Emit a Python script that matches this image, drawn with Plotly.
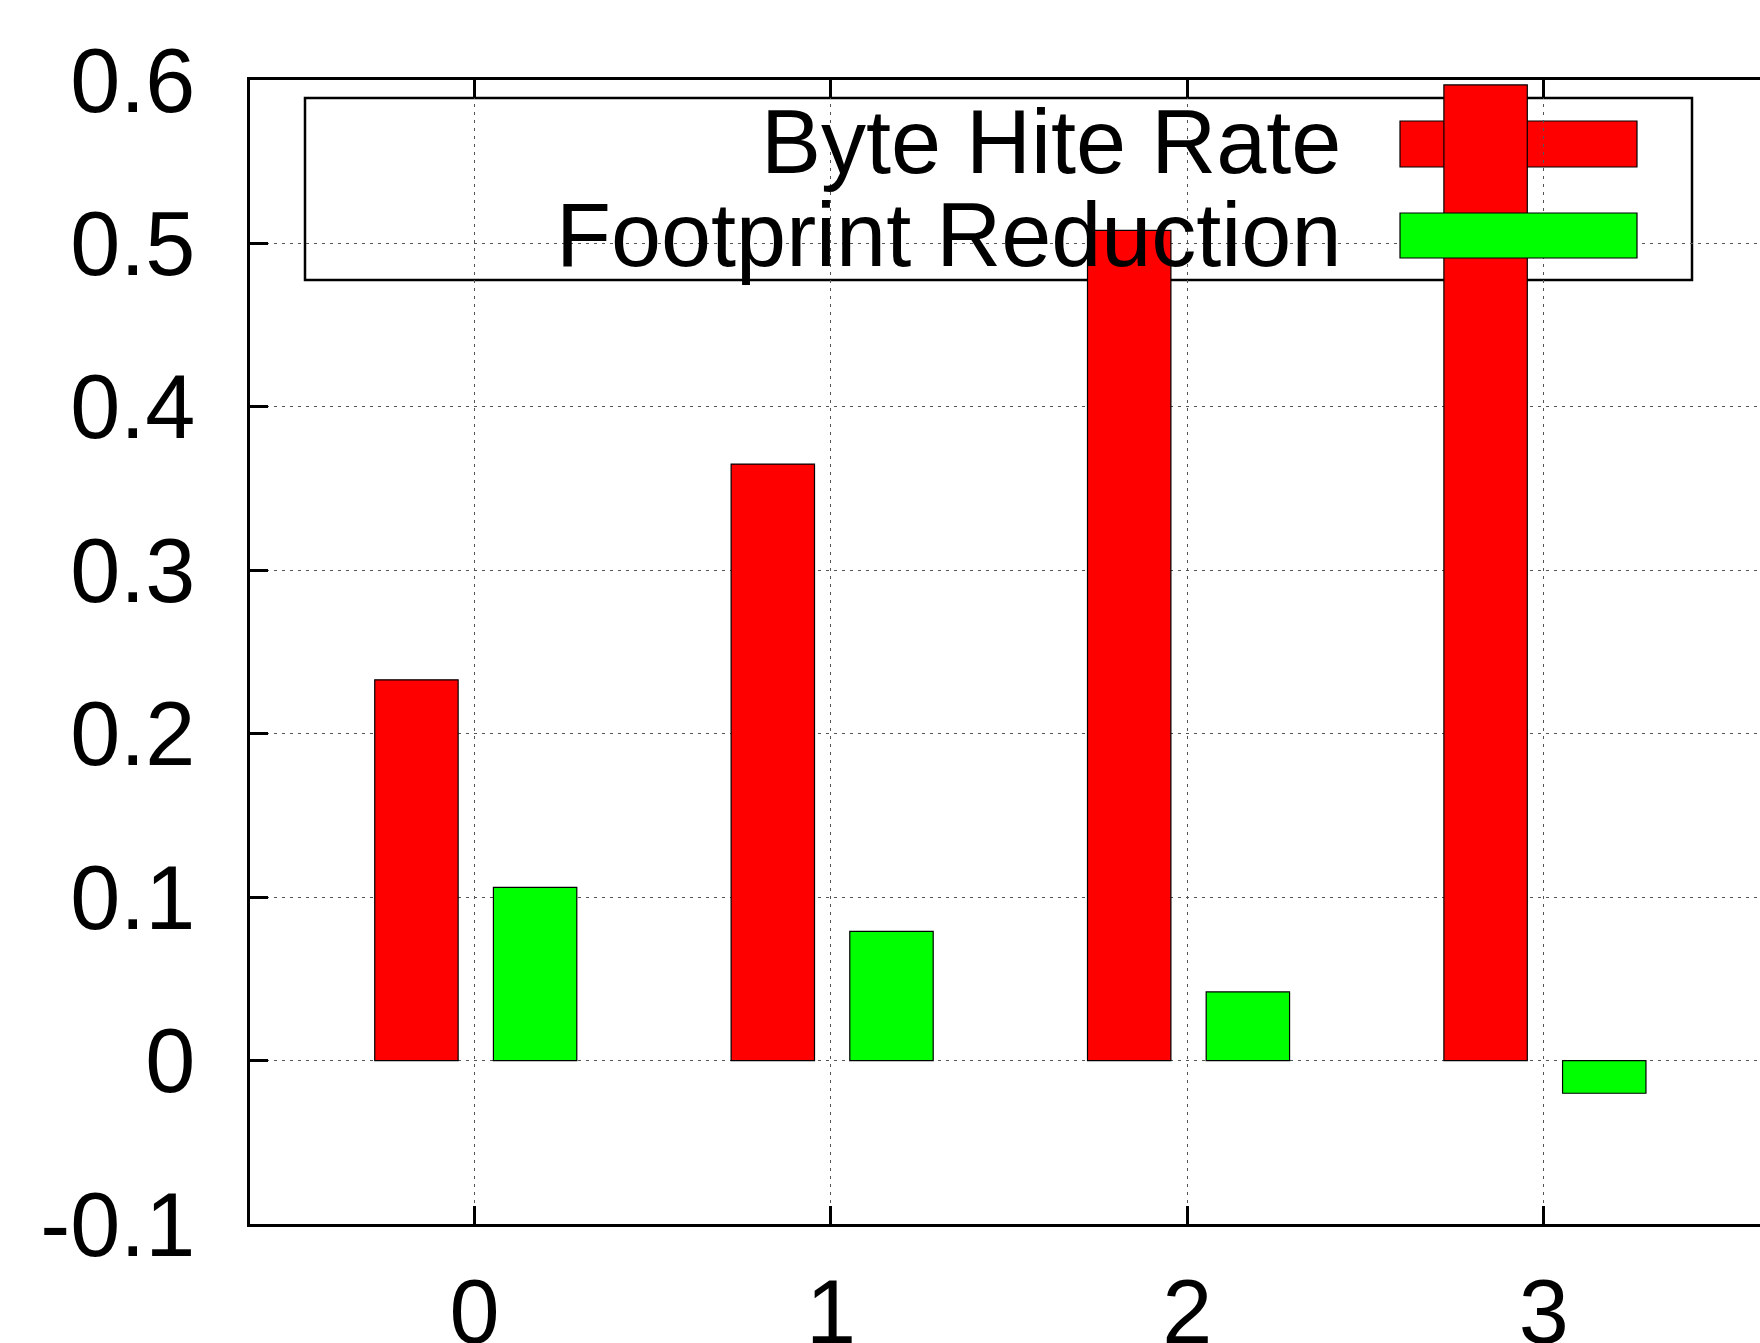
import plotly.graph_objects as go

# Data
categories = [0, 1, 2, 3]
tick_labels_x = ["0", "1", "2", "3"]
byte_hit_rate = [0.233, 0.365, 0.508, 0.597]
footprint_reduction = [0.106, 0.079, 0.042, -0.020]
y_tick_values = [-0.1, 0, 0.1, 0.2, 0.3, 0.4, 0.5, 0.6]
y_tick_labels = ["-0.1", "0", "0.1", "0.2", "0.3", "0.4", "0.5", "0.6"]
series_names = ["Byte Hite Rate", "Footprint Reduction"]

W, H = 1760, 1343
PLOT_L, PLOT_R, PLOT_T, PLOT_B = 250, 1760, 80, 1224
FONT = "Liberation Sans, Arial, Helvetica, sans-serif"
RED = "#ff0000"
GREEN = "#00ff00"


def px(x):
    return (x - PLOT_L) / (PLOT_R - PLOT_L)


def py(y):
    return (PLOT_B - y) / (PLOT_B - PLOT_T)


fig = go.Figure()
fig.add_trace(go.Bar(
    x=categories, y=byte_hit_rate, name=series_names[0],
    width=0.234, offset=-0.280,
    marker=dict(color=RED, line=dict(color="black", width=1.2)),
    showlegend=False,
))
fig.add_trace(go.Bar(
    x=categories, y=footprint_reduction, name=series_names[1],
    width=0.234, offset=0.053,
    marker=dict(color=GREEN, line=dict(color="black", width=1.2)),
    showlegend=False,
))

# Key: framed box with samples on the right, labels right-aligned
shapes = [
    dict(type="rect", xref="paper", yref="paper",
         x0=px(305), x1=px(1692), y0=py(280), y1=py(98),
         fillcolor="white", line=dict(color="black", width=2.5), layer="between"),
    dict(type="rect", xref="paper", yref="paper",
         x0=px(1400), x1=px(1637), y0=py(167), y1=py(121),
         fillcolor=RED, line=dict(color="black", width=1.2), layer="between"),
    dict(type="rect", xref="paper", yref="paper",
         x0=px(1400), x1=px(1637), y0=py(258), y1=py(213),
         fillcolor=GREEN, line=dict(color="black", width=1.2), layer="above"),
]
annotations = [
    dict(text=series_names[0], xref="paper", yref="paper",
         x=px(1343), y=py(142), xanchor="right", yanchor="middle",
         showarrow=False, font=dict(family=FONT, size=90, color="black")),
    dict(text=series_names[1], xref="paper", yref="paper",
         x=px(1343), y=py(235), xanchor="right", yanchor="middle",
         showarrow=False, font=dict(family=FONT, size=90, color="black")),
]

fig.update_layout(
    width=W, height=H,
    margin=dict(l=PLOT_L, r=W - PLOT_R, t=PLOT_T, b=H - PLOT_B, pad=0),
    paper_bgcolor="white", plot_bgcolor="white",
    barmode="group",
    font=dict(family=FONT, size=90, color="black"),
    shapes=shapes, annotations=annotations,
    showlegend=False,
)
fig.update_xaxes(
    range=[-0.63, 3.607], tickvals=categories, ticktext=tick_labels_x,
    ticks="inside", ticklen=18, tickwidth=2.5, tickcolor="black",
    showline=True, linecolor="black", linewidth=2.5, mirror="ticks",
    showgrid=True, gridcolor="#555555", gridwidth=1, griddash="3px,5px",
    zeroline=False, automargin=False, ticklabelstandoff=8,
    tickfont=dict(family=FONT, size=90, color="black"),
)
fig.update_yaxes(
    range=[-0.1, 0.6], tickvals=y_tick_values, ticktext=y_tick_labels,
    ticks="inside", ticklen=18, tickwidth=2.5, tickcolor="black",
    showline=True, linecolor="black", linewidth=2.5, mirror=False,
    showgrid=True, gridcolor="#555555", gridwidth=1, griddash="3px,5px",
    zeroline=False, automargin=False, ticklabelstandoff=34,
    tickfont=dict(family=FONT, size=90, color="black"),
)

fig.write_html("out.html")
